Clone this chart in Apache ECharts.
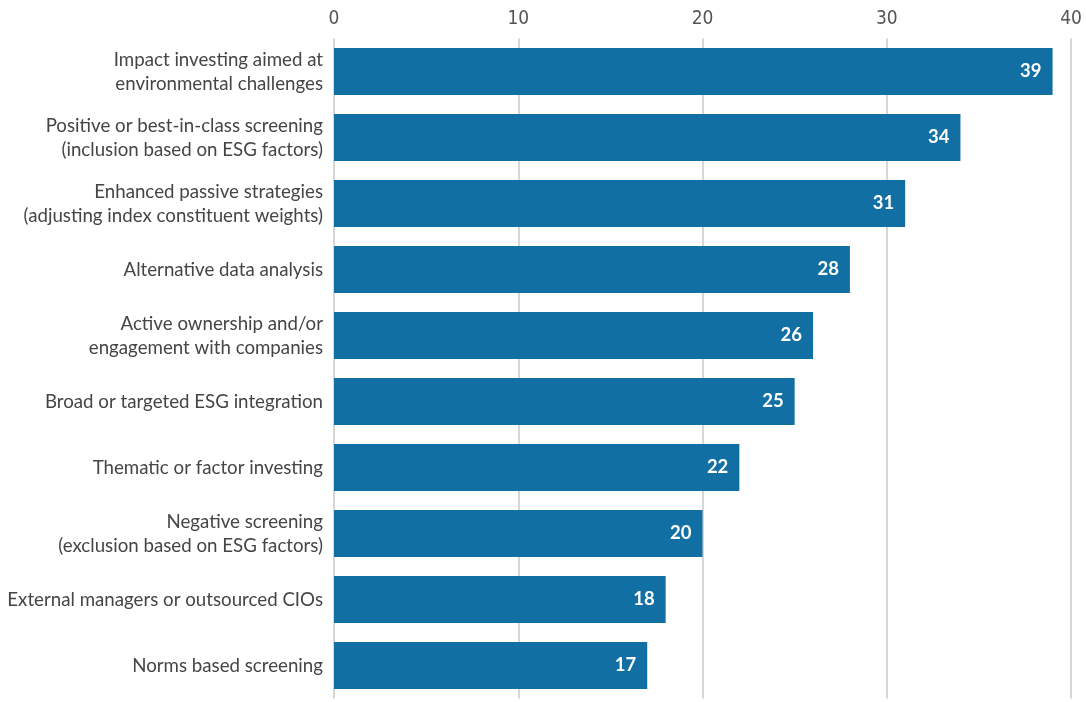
<!DOCTYPE html>
<html>
<head>
<meta charset="utf-8">
<script src="https://cdn.jsdelivr.net/npm/echarts@6/dist/echarts.min.js"></script>
<style>
  html, body { margin: 0; padding: 0; background: #fff; }
  #chart { width: 1086px; height: 702px; }
</style>
</head>
<body>
<div id="chart"></div>
<script>
// ESG approaches, ranked by share of respondents
const categories = [
  'Impact investing aimed at\nenvironmental challenges',
  'Positive or best-in-class screening\n(inclusion based on ESG factors)',
  'Enhanced passive strategies\n(adjusting index constituent weights)',
  'Alternative data analysis',
  'Active ownership and/or\nengagement with companies',
  'Broad or targeted ESG integration',
  'Thematic or factor investing',
  'Negative screening\n(exclusion based on ESG factors)',
  'External managers or outsourced CIOs',
  'Norms based screening'
];
const values = [39, 34, 31, 28, 26, 25, 22, 20, 18, 17];
const xTicks = [0, 10, 20, 30, 40];

const chart = echarts.init(document.getElementById('chart'), null, { renderer: 'canvas' });
chart.setOption({
  animation: false,
  grid: { left: 334, right: 15, top: 38.5, bottom: 3.5, containLabel: false },
  xAxis: {
    type: 'value',
    position: 'top',
    min: xTicks[0],
    max: xTicks[xTicks.length - 1],
    interval: 10,
    axisLine: { show: false },
    axisTick: { show: false },
    axisLabel: {
      color: '#555',
      fontFamily: 'DejaVu Sans Condensed, Roboto, sans-serif',
      fontSize: 19,
      margin: 10,
      formatter: v => xTicks.includes(v) ? String(v) : ''
    },
    splitLine: { show: true, lineStyle: { color: '#c8c8c8', width: 1.5 } }
  },
  yAxis: {
    type: 'category',
    inverse: true,
    data: categories,
    axisLine: { show: false },
    axisTick: { show: false },
    axisLabel: {
      color: '#454545',
      fontFamily: 'Lato, "Noto Sans", sans-serif',
      fontSize: 18.7,
      lineHeight: 24,
      margin: 11,
      align: 'right'
    }
  },
  series: [{
    type: 'bar',
    data: values,
    barWidth: 47,
    itemStyle: { color: '#116fa3' },
    label: {
      show: true,
      position: 'insideRight',
      distance: 11,
      color: '#fff',
      fontWeight: 'bold',
      fontFamily: 'Lato, "Noto Sans", sans-serif',
      fontSize: 18.5
    }
  }]
});
</script>
</body>
</html>
